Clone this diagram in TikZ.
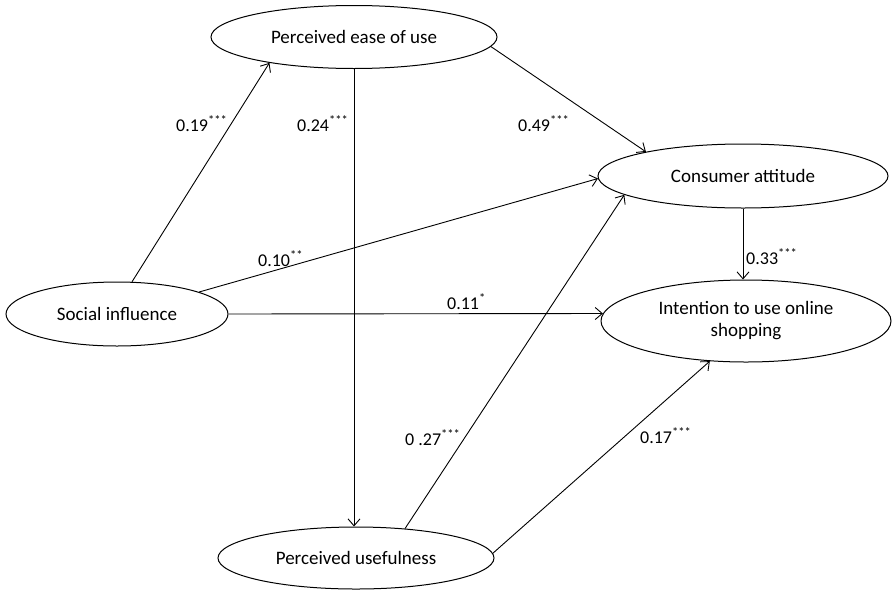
\documentclass[tikz,border=0pt]{standalone}
\usepackage{fontspec}
\setmainfont{Carlito}
\usetikzlibrary{shapes.geometric,arrows.meta}
\begin{document}
\begin{tikzpicture}[x=1pt,y=-1pt,
  construct/.style={ellipse,draw,line width=1pt,inner sep=0pt,font=\fontsize{19}{22}\selectfont,align=center},
  path/.style={draw,line width=0.9pt,-{Straight Barb[length=7pt,width=12pt,line width=0.9pt]}},
  coef/.style={anchor=base west,inner sep=0pt,font=\fontsize{18}{20}\selectfont}]
\useasboundingbox (0,0) rectangle (893,592);
\node[construct,minimum width=286pt,minimum height=63pt] (PEOU) at (354,37) {Perceived ease of use};
\node[construct,minimum width=290pt,minimum height=64pt] (CA) at (743,176) {Consumer attitude};
\node[construct,minimum width=290pt,minimum height=82pt] (INT) at (746,321) {Intention to use online\\shopping};
\node[construct,minimum width=222pt,minimum height=64pt] (SI) at (117,314) {Social influence};
\node[construct,minimum width=276pt,minimum height=62pt] (PU) at (356,558) {Perceived usefulness};

\draw[path] (SI.65.7) -- (PEOU.197.6);
\draw[path] (PEOU.south) -- (PEOU.south |- PU.north);
\draw[path] (PEOU.-4.8) -- (CA.166.5);
\draw[path] (SI.15.9) -- (CA.181);
\draw[path] (SI.east) -- (INT.177.3);
\draw[path] (CA.south) -- (CA.south |- INT.north);
\draw[path] (PU.31) -- (CA.189.5);
\draw[path] (PU.2.5) -- (INT.228.7);

\node[coef] (l19) at (176,131) {0.19\textsuperscript{***}};
\node[coef] (l24) at (297,131) {0.24\textsuperscript{***}};
\node[coef] (l49) at (518,131) {0.49\textsuperscript{***}};
\node[coef] (l10) at (258,266) {0.10\textsuperscript{**}};
\node[coef] (l11) at (447,309) {0.11\textsuperscript{*}};
\node[coef] (l33) at (746,264) {0.33\textsuperscript{***}};
\node[coef] (l27) at (405,445) {0 .27\textsuperscript{***}};
\node[coef] (l17) at (640,443) {0.17\textsuperscript{***}};
\end{tikzpicture}
\end{document}
